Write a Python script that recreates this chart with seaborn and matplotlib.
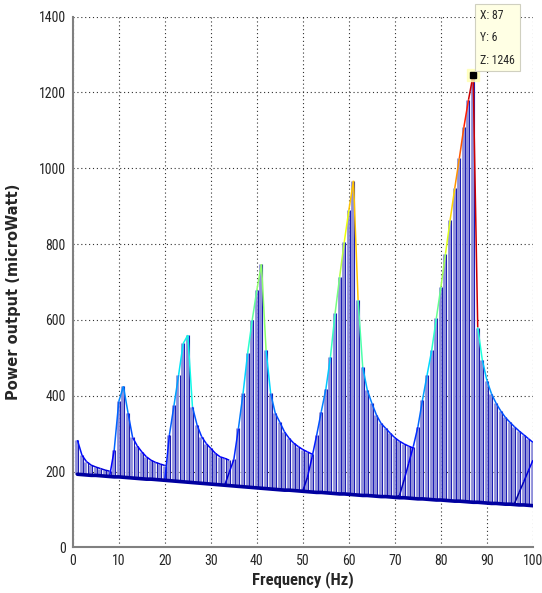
import numpy as np
import pandas as pd
import matplotlib
matplotlib.use("Agg")
import matplotlib.pyplot as plt
import seaborn as sns
from matplotlib.collections import LineCollection
from matplotlib import font_manager

# Power output (microWatt) of each harvester curve.
# Each curve: first frequency (Hz) and the values at consecutive integer Hz.
s1_start, s1_power = 1, [283, 243, 226, 217, 212, 208, 204, 201]
s2_start, s2_power = 8, [187, 257, 385, 425, 355, 290, 268, 252, 239, 230, 224, 220, 216]
s3_start, s3_power = 20, [178, 297, 375, 455, 538, 560, 371, 323, 292, 274, 261, 248, 239, 235, 230]
s4_start, s4_power = 33, [164, 198, 232, 314, 406, 512, 600, 679, 747, 520, 406, 354, 330, 305,
                          288, 275, 266, 258, 252, 246]
s5_start, s5_power = 50, [150, 185, 238, 296, 358, 418, 503, 617, 714, 806, 890, 967, 652, 476,
                          415, 380, 349, 327, 314, 301, 289, 280, 273, 267, 262]
s6_start, s6_power = 70, [132, 137, 178, 222, 266, 318, 389, 455, 520, 604, 687, 775, 863, 947,
                          1026, 1109, 1181, 1246, 580, 494, 440, 405, 380, 360, 343, 330, 318,
                          307, 297, 287, 277]
s7_start, s7_power = 96, [116, 145, 173, 202, 230]

# lower edge of the mesh, 1..100 Hz
baseline_power = [193, 192, 191, 190, 190, 189, 188, 187, 186, 186,
                  185, 184, 183, 182, 181, 180, 180, 179, 178, 177,
                  176, 175, 174, 173, 172, 171, 170, 169, 168, 167,
                  166, 165, 164, 163, 162, 161, 160, 159, 158, 157,
                  156, 155, 154, 153, 152, 151, 151, 150, 149, 148,
                  147, 146, 145, 145, 144, 143, 142, 141, 141, 140,
                  139, 138, 137, 137, 136, 135, 134, 134, 133, 132,
                  131, 131, 130, 129, 128, 128, 127, 126, 125, 125,
                  124, 123, 122, 122, 121, 120, 119, 119, 118, 117,
                  116, 116, 115, 114, 114, 113, 112, 112, 111, 110]

tip_x, tip_y, tip_z = 87, 6, 1246

series = {1: (s1_start, s1_power), 2: (s2_start, s2_power), 3: (s3_start, s3_power),
          4: (s4_start, s4_power), 5: (s5_start, s5_power), 6: (s6_start, s6_power),
          7: (s7_start, s7_power)}

rows = []
for k, (start, vals) in series.items():
    for i, v in enumerate(vals):
        rows.append((k, start + i, v))
df = pd.DataFrame(rows, columns=["series", "freq", "power"])

freq = np.arange(1, len(baseline_power) + 1)
base = pd.DataFrame({"freq": freq, "power": baseline_power})
envelope = df.groupby("freq")["power"].max().reindex(freq).values

sns.set_style("white")

# pick a narrow font if one is installed (the original labels are condensed)
fonts = font_manager.fontManager.ttflist
names = {f.name for f in fonts}
narrow = dict(family="Liberation Sans")
for cand in ["Liberation Sans Narrow", "Roboto Condensed", "Open Sans Condensed", "Arial Narrow"]:
    if cand in names:
        narrow = dict(family=cand)
        break
else:
    if any(f.name == "DejaVu Sans" and f.stretch == "condensed" for f in fonts):
        narrow = dict(family="DejaVu Sans", stretch="condensed")

fig = plt.figure(figsize=(5.42, 5.93), dpi=100)
ax = fig.add_axes([0.1343, 0.0769, 0.849, 0.895])

# stems of the mesh (light + dark pairs)
ax.vlines(freq - 0.25, base["power"], envelope, color="#8e8ed9", lw=2.0, zorder=2)
ax.vlines(freq + 0.2, base["power"], envelope, color="#1c1cb4", lw=0.8, zorder=3)

# curves coloured by height (jet)
cmap = plt.get_cmap("jet")
norm = plt.Normalize(110, 1330)
for k, g in df.groupby("series"):
    pts = g[["freq", "power"]].values
    segs = np.stack([pts[:-1], pts[1:]], axis=1)
    seg_col = cmap(norm(np.maximum(pts[:-1, 1], pts[1:, 1])))
    ax.add_collection(LineCollection(segs, colors=seg_col, lw=1.1, zorder=4))

sns.lineplot(data=base, x="freq", y="power", color="#0000a0", lw=2.6, ax=ax, zorder=5)

# data tip
ax.plot(tip_x, tip_z, marker="s", ms=9, color="#ffffb4", alpha=0.8, zorder=6, clip_on=False)
ax.plot(tip_x, tip_z, marker="s", ms=5, color="black", zorder=7, clip_on=False)
ax.text(92.3, 1345, f"X: {tip_x}\nY: {tip_y}\nZ: {tip_z}", ha="center", va="center",
        multialignment="left", fontsize=8.5, linespacing=1.95, zorder=8, **narrow,
        bbox=dict(boxstyle="square,pad=0.4", fc="#ffffe4", ec="#d0d0c0", lw=0.8))

ax.set_xlim(0, 100)
ax.set_ylim(0, 1400)
ax.set_xticks(range(0, 101, 10))
ax.set_yticks(range(0, 1401, 200))
ax.grid(True, color="#303030", linestyle=(0, (1, 2.5)), lw=0.8)
ax.set_axisbelow(True)
for side in ["top", "right"]:
    ax.spines[side].set_visible(False)
for side in ["left", "bottom"]:
    ax.spines[side].set_color("#808080")
    ax.spines[side].set_linewidth(1.5)
ax.tick_params(direction="in", length=4, color="#808080", labelsize=10, pad=5)
for lbl in ax.get_xticklabels() + ax.get_yticklabels():
    lbl.set_family(narrow["family"])
    if "stretch" in narrow:
        lbl.set_stretch(narrow["stretch"])

ax.set_xlabel("Frequency (Hz)", fontsize=12, fontweight="bold", labelpad=2, **narrow)
ax.set_ylabel("Power output (microWatt)", fontsize=10.5, fontweight="bold",
              family="DejaVu Sans")
ax.yaxis.set_label_coords(-0.113, 0.482)

fig.savefig("out.png", dpi=100)
